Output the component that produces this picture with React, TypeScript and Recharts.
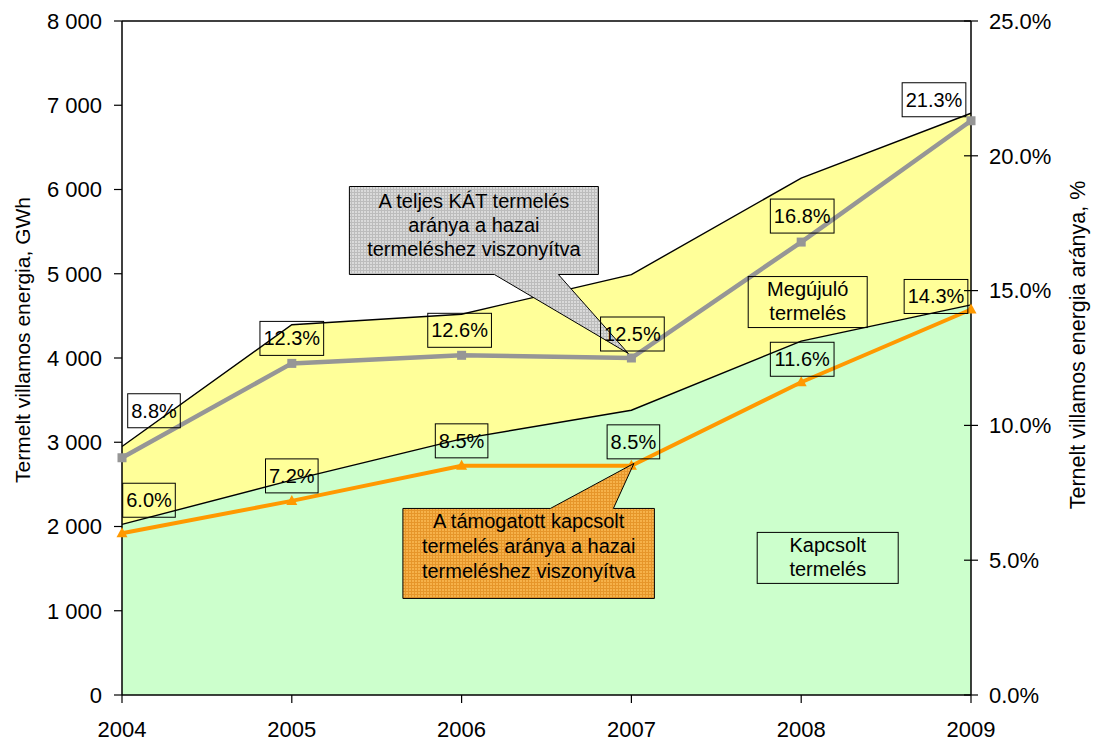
import React from 'react';
import {
  ComposedChart,
  Area,
  Line,
  XAxis,
  YAxis,
  Label,
  LabelList,
  ReferenceLine,
  ReferenceDot,
} from 'recharts';

// years on the horizontal axis
const years = ['2004', '2005', '2006', '2007', '2008', '2009'];
// produced electricity, GWh (stacked)
const kapcsolt = [2025, 2550, 3040, 3380, 4200, 4630];
const megujulo = [925, 1845, 1480, 1610, 1935, 2275];
// share of domestic production, %
const katShare = [8.8, 12.3, 12.6, 12.5, 16.8, 21.3];
const kapcsoltShare = [6.0, 7.2, 8.5, 8.5, 11.6, 14.3];

const energyTicks = [0, 1000, 2000, 3000, 4000, 5000, 6000, 7000, 8000];
const shareTicks = [0, 5, 10, 15, 20, 25];

const data = years.map((year, i) => ({
  year,
  kapcsolt: kapcsolt[i],
  megujulo: megujulo[i],
  kat: katShare[i],
  kapcsoltShare: kapcsoltShare[i],
}));

const GREEN = '#CCFFCC';
const YELLOW = '#FFFF99';
const GRAY = '#969696';
const ORANGE = '#FF9900';
const FONT = '"Liberation Sans", Arial, Helvetica, sans-serif';

// label box centre relative to its point, [dx, dy]
const katLabelShift = [[32, -47], [0, -25], [-2, -25], [1, -24], [1, -26], [-37, -21]];
const kapcsoltLabelShift = [[27, -33], [0, -25], [0, -25], [2, -24], [1, -23], [-35, -13]];

const fmtThousands = (v: number) =>
  String(v).replace(/\B(?=(\d{3})+(?!\d))/g, ' ');

const glyphEm: Record<string, number> = { '.': 0.278, '%': 0.889 };
const labelWidth = (s: string) =>
  s.split('').reduce((w, c) => w + (glyphEm[c] ?? 0.556), 0) * 20 + 7;

const boxedLabel = (shift: number[][]) => (props: any) => {
  const vb = props.viewBox ?? {};
  const x = props.x ?? vb.x;
  const y = props.y ?? vb.y;
  const i = props.index ?? 0;
  const text = `${Number(props.value).toFixed(1)}%`;
  const w = labelWidth(text);
  const [dx, dy] = shift[i];
  const cx = x + dx;
  const cy = y + dy;
  return (
    <g>
      <rect x={cx - w / 2} y={cy - 17} width={w} height={34} fill="none" stroke="#000" strokeWidth={1} />
      <text x={cx} y={cy + 7} textAnchor="middle" fontSize={20} fill="#000" fontFamily={FONT}>
        {text}
      </text>
    </g>
  );
};

const squareDot = (p: any) => (
  <rect key={`sq-${p.index}`} x={p.cx - 4.5} y={p.cy - 4.5} width={9} height={9} fill={GRAY} />
);

const triangleDot = (p: any) => (
  <path
    key={`tr-${p.index}`}
    d={`M${p.cx},${p.cy - 6}L${p.cx + 5.5},${p.cy + 4}L${p.cx - 5.5},${p.cy + 4}Z`}
    fill={ORANGE}
  />
);

const ShareTick = (props: any) => {
  const { x, y, payload } = props;
  return (
    <g>
      <line x1={x - 25} x2={x - 18} y1={y} y2={y} stroke="#000" strokeWidth={1.2} />
      <text x={x} y={y} dy={7.8} fontSize={22} fill="#000" fontFamily={FONT}>
        {`${Number(payload.value).toFixed(1)}%`}
      </text>
    </g>
  );
};

// callout: box with a pointer whose tip sits on the referenced point
type CalloutGeom = {
  x0: number; x1: number; y0: number; y1: number;
  base: [number, number]; tip: [number, number]; below: boolean;
  textX: number; baselines: number[]; lines: string[]; fill: string;
};

const Callout = ({ cx, cy, g }: { cx: number; cy: number; g: CalloutGeom }) => {
  const X0 = cx + g.x0, X1 = cx + g.x1, Y0 = cy + g.y0, Y1 = cy + g.y1;
  const B0 = cx + g.base[0], B1 = cx + g.base[1];
  const TX = cx + g.tip[0], TY = cy + g.tip[1];
  const d = g.below
    ? `M${X0},${Y0}H${X1}V${Y1}H${B1}L${TX},${TY}L${B0},${Y1}H${X0}Z`
    : `M${X0},${Y0}H${B0}L${TX},${TY}L${B1},${Y0}H${X1}V${Y1}H${X0}Z`;
  return (
    <g>
      <path d={d} fill={g.fill} stroke="#000" strokeWidth={1} />
      {g.lines.map((s, i) => (
        <text key={s} x={cx + g.textX} y={cy + g.baselines[i]} textAnchor="middle" fontSize={20} fill="#000" fontFamily={FONT}>
          {s}
        </text>
      ))}
    </g>
  );
};

const katCallout: CalloutGeom = {
  x0: -282, x1: -33, y0: -171.5, y1: -83.5,
  base: [-137, -73], tip: [-3, -4.5], below: true,
  textX: -157.5, baselines: [-150.5, -126.5, -102.5],
  lines: ['A teljes KÁT termelés', 'aránya a hazai', 'termeléshez viszonyítva'],
  fill: 'url(#grayHatch)',
};

const kapcsoltCallout: CalloutGeom = {
  x0: -228.5, x1: 23, y0: 42.6, y1: 132.6,
  base: [-81, -18], tip: [2.5, -2.4], below: false,
  textX: -102.75, baselines: [62.6, 87.6, 112.6],
  lines: ['A támogatott kapcsolt', 'termelés aránya a hazai', 'termeléshez viszonyítva'],
  fill: 'url(#orangeHatch)',
};

// plain boxed caption for an area
const AreaCaption = ({ cx, cy, box, textX, baselines, lines }: any) => (
  <g>
    <rect x={cx + box[0]} y={cy + box[1]} width={box[2]} height={box[3]} fill="none" stroke="#000" strokeWidth={1} />
    {lines.map((s: string, i: number) => (
      <text key={s} x={cx + textX} y={cy + baselines[i]} textAnchor="middle" fontSize={20} fill="#000" fontFamily={FONT}>
        {s}
      </text>
    ))}
  </g>
);

const leftTitle = ({ viewBox }: any) => (
  <text
    transform={`translate(${viewBox.x + 22}, ${viewBox.y + 319}) rotate(-90)`}
    textAnchor="middle"
    dominantBaseline="central"
    fontSize={21}
    fill="#000"
    fontFamily={FONT}
  >
    Termelt villamos energia, GWh
  </text>
);

const rightTitle = ({ viewBox }: any) => (
  <text
    transform={`translate(${viewBox.x + 107}, ${viewBox.y + 324}) rotate(-90)`}
    textAnchor="middle"
    dominantBaseline="central"
    fontSize={21.5}
    fill="#000"
    fontFamily={FONT}
  >
    Ternelt villamos energia aránya, %
  </text>
);

export default function App() {
  return (
    <div style={{ position: 'absolute', left: 0, top: 0, width: 1093, height: 742, background: '#fff', fontFamily: FONT }}>
      <ComposedChart width={1093} height={742} data={data} margin={{ top: 21, right: 0, bottom: 0, left: 0 }}>
        <defs>
          <pattern id="grayHatch" width="3" height="3" patternUnits="userSpaceOnUse">
            <rect width="3" height="3" fill="#dadada" />
            <path d="M0,0.5H3M0.5,0V3" stroke="#bcbcbc" strokeWidth="1" />
          </pattern>
          <pattern id="orangeHatch" width="3" height="3" patternUnits="userSpaceOnUse">
            <rect width="3" height="3" fill="#f6b24a" />
            <path d="M0,0.5H3M0.5,0V3" stroke="#e6962a" strokeWidth="1" />
          </pattern>
        </defs>
        <XAxis
          dataKey="year"
          scale="point"
          interval={0}
          height={47}
          tickSize={8}
          tickMargin={18}
          axisLine={{ stroke: '#000', strokeWidth: 1.5 }}
          tickLine={{ stroke: '#000', strokeWidth: 1.2 }}
          tick={{ fontSize: 22, fill: '#000' }}
        />
        <YAxis
          yAxisId="left"
          width={122}
          domain={[0, 8000]}
          ticks={energyTicks}
          interval={0}
          tickFormatter={fmtThousands}
          tickSize={8}
          tickMargin={12}
          axisLine={{ stroke: '#000', strokeWidth: 1.5 }}
          tickLine={{ stroke: '#000', strokeWidth: 1.2 }}
          tick={{ fontSize: 22, fill: '#000' }}
        >
          <Label content={leftTitle} />
        </YAxis>
        <YAxis
          yAxisId="right"
          orientation="right"
          width={122}
          domain={[0, 25]}
          ticks={shareTicks}
          interval={0}
          tickSize={7}
          tickMargin={11}
          axisLine={{ stroke: '#000', strokeWidth: 1.5 }}
          tickLine={{ stroke: '#000', strokeWidth: 1.2 }}
          tick={<ShareTick />}
        >
          <Label content={rightTitle} />
        </YAxis>
        <Area
          yAxisId="left"
          type="linear"
          dataKey="kapcsolt"
          stackId="gwh"
          fill={GREEN}
          fillOpacity={1}
          stroke="none"
          isAnimationActive={false}
        />
        <Area
          yAxisId="left"
          type="linear"
          dataKey="megujulo"
          stackId="gwh"
          fill={YELLOW}
          fillOpacity={1}
          stroke="#000"
          strokeWidth={1.4}
          isAnimationActive={false}
        />
        {/* outline between the two stacked areas, kept above the yellow fill */}
        <Line
          yAxisId="left"
          type="linear"
          dataKey="kapcsolt"
          stroke="#000"
          strokeWidth={1.4}
          dot={false}
          activeDot={false}
          legendType="none"
          isAnimationActive={false}
        />
        <ReferenceLine yAxisId="left" y={8000} stroke="#000" strokeWidth={1.3} />
        <Line
          yAxisId="right"
          type="linear"
          dataKey="kat"
          stroke={GRAY}
          strokeWidth={4.5}
          dot={squareDot}
          activeDot={false}
          isAnimationActive={false}
        >
          <LabelList dataKey="kat" content={boxedLabel(katLabelShift)} />
        </Line>
        <Line
          yAxisId="right"
          type="linear"
          dataKey="kapcsoltShare"
          stroke={ORANGE}
          strokeWidth={4}
          dot={triangleDot}
          activeDot={false}
          isAnimationActive={false}
        >
          <LabelList dataKey="kapcsoltShare" content={boxedLabel(kapcsoltLabelShift)} />
        </Line>
        <ReferenceDot
          yAxisId="left"
          x="2008"
          y={4600}
          shape={(p: any) => (
            <AreaCaption cx={p.cx} cy={p.cy} box={[-53, -30.9, 119, 51]} textX={6.5} baselines={[-11.9, 12.1]} lines={['Megújuló', 'termelés']} />
          )}
        />
        <ReferenceDot
          yAxisId="left"
          x="2008"
          y={1600}
          shape={(p: any) => (
            <AreaCaption cx={p.cx} cy={p.cy} box={[-44, -27.8, 141, 51]} textX={26.6} baselines={[-8.1, 16.2]} lines={['Kapcsolt', 'termelés']} />
          )}
        />
        <ReferenceDot
          yAxisId="right"
          x="2007"
          y={katShare[3]}
          shape={(p: any) => <Callout cx={p.cx} cy={p.cy} g={katCallout} />}
        />
        <ReferenceDot
          yAxisId="right"
          x="2007"
          y={kapcsoltShare[3]}
          shape={(p: any) => <Callout cx={p.cx} cy={p.cy} g={kapcsoltCallout} />}
        />
      </ComposedChart>
    </div>
  );
}
